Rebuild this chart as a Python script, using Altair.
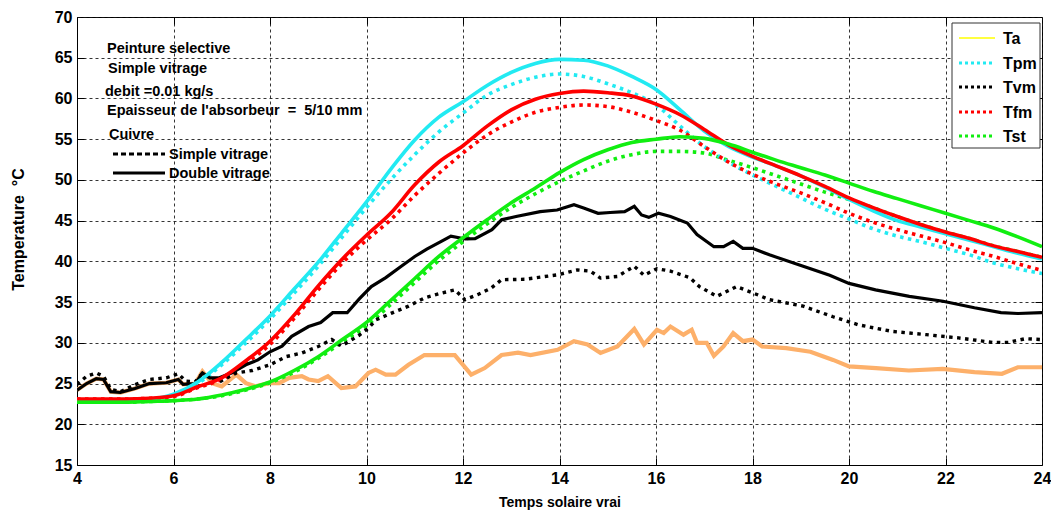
import altair as alt
import pandas as pd

# ---------------- data ----------------
t_half = [4.0, 4.5, 5.0, 5.5, 6.0, 6.5, 7.0, 7.5, 8.0, 8.5, 9.0, 9.5, 10.0, 10.5,
          11.0, 11.5, 12.0, 12.5, 13.0, 13.5, 14.0, 14.5, 15.0, 15.5, 16.0, 16.5,
          17.0, 17.5, 18.0, 18.5, 19.0, 19.5, 20.0, 20.5, 21.0, 21.5, 22.0, 22.5,
          23.0, 23.5, 24.0]

tpm_double = [23.0, 23.0, 23.0, 23.1, 23.7, 25.2, 27.6, 30.4, 33.3, 36.6,
              39.9, 43.6, 47.3, 51.3, 54.9, 57.7, 59.6, 61.6, 63.2, 64.3,
              64.8, 64.7, 64.0, 62.7, 61.1, 58.6, 56.0, 54.1, 52.8, 51.7,
              50.5, 49.1, 47.6, 46.2, 45.0, 44.2, 43.4, 42.6, 41.8, 41.0, 40.3]
tpm_simple = [23.0, 23.0, 23.0, 23.1, 23.6, 25.0, 27.3, 30.0, 32.9, 36.1,
              39.4, 43.0, 46.6, 50.0, 53.1, 55.9, 58.2, 60.4, 61.7, 62.6,
              63.0, 62.7, 61.8, 60.7, 59.2, 56.6, 54.1, 52.2, 50.6, 49.2,
              47.8, 46.4, 45.2, 44.0, 43.1, 42.4, 41.6, 40.8, 39.8, 39.1, 38.5]
tfm_double = [23.1, 23.1, 23.1, 23.2, 23.5, 24.6, 25.7, 27.8, 30.2, 33.4,
              37.0, 40.3, 43.2, 45.9, 49.4, 52.2, 54.2, 56.6, 58.6, 59.9,
              60.6, 60.9, 60.7, 60.3, 59.3, 58.0, 56.2, 54.3, 52.9, 51.7,
              50.5, 49.2, 47.8, 46.6, 45.5, 44.5, 43.6, 42.8, 41.9, 41.2, 40.5]
tfm_simple = [23.1, 23.1, 23.1, 23.2, 23.4, 24.5, 25.5, 27.5, 29.8, 33.0,
              36.5, 39.8, 42.6, 45.1, 48.1, 50.8, 53.3, 55.5, 57.1, 58.3,
              58.9, 59.2, 59.0, 58.3, 57.3, 56.1, 54.1, 52.2, 50.7, 49.5,
              48.4, 47.2, 45.9, 44.8, 43.9, 43.1, 42.3, 41.4, 40.6, 39.7, 38.9]
tst_double = [22.7, 22.7, 22.7, 22.8, 22.9, 23.1, 23.6, 24.3, 25.2, 26.6,
              28.3, 30.4, 32.5, 35.2, 37.9, 40.6, 42.9, 45.1, 47.2, 49.0,
              50.9, 52.5, 53.7, 54.6, 55.0, 55.3, 55.1, 54.4, 53.4, 52.4,
              51.5, 50.6, 49.6, 48.6, 47.7, 46.8, 45.9, 45.0, 44.1, 43.0, 41.8]
tst_simple = [22.7, 22.7, 22.7, 22.8, 22.9, 23.1, 23.5, 24.2, 25.1, 26.4,
              28.1, 30.1, 32.1, 34.7, 37.4, 40.1, 42.4, 44.6, 46.6, 48.3,
              49.8, 51.1, 52.3, 53.1, 53.5, 53.5, 53.3, 52.4, 51.5, 50.5,
              49.5, 48.5, 47.6, 46.6, 45.5, 44.5, 43.6, 42.8, 41.9, 41.2, 40.5]

tvm_double_t = [4.0, 4.2, 4.4, 4.55, 4.7, 4.9, 5.2, 5.5, 5.85, 6.1,
                6.2, 6.45, 6.6, 6.75, 6.95, 7.2, 7.5, 7.75, 8.0, 8.25,
                8.45, 8.8, 9.05, 9.3, 9.6, 9.85, 10.1, 10.4, 10.7, 11.0,
                11.25, 11.55, 11.75, 12.05, 12.25, 12.6, 12.8, 13.1, 13.6, 13.95,
                14.3, 14.5, 14.8, 15.05, 15.35, 15.55, 15.7, 15.85, 16.05, 16.3,
                16.65, 16.85, 17.2, 17.4, 17.6, 17.8, 18.0, 18.35, 19.05, 19.6,
                20.0, 20.55, 21.25, 21.95, 22.6, 23.15, 23.5, 24.0]
tvm_double = [24.2, 25.0, 25.6, 25.5, 24.0, 23.9, 24.4, 25.0, 25.1, 25.5,
              24.9, 25.0, 26.3, 25.7, 25.7, 26.3, 27.3, 27.9, 28.9, 29.6,
              30.8, 32.0, 32.5, 33.7, 33.7, 35.4, 36.9, 38.0, 39.3, 40.6,
              41.5, 42.45, 43.1, 42.75, 42.8, 43.9, 45.1, 45.5, 46.1, 46.3,
              46.95, 46.55, 45.9, 46.0, 46.1, 46.75, 45.7, 45.4, 45.9, 45.5,
              44.7, 43.3, 41.8, 41.8, 42.45, 41.6, 41.6, 40.8, 39.4, 38.3,
              37.3, 36.5, 35.7, 35.1, 34.3, 33.7, 33.6, 33.7]

tvm_simple_t = [4.0, 4.2, 4.4, 4.55, 4.7, 4.9, 5.2, 5.5, 5.85, 6.1,
                6.25, 6.45, 6.6, 6.75, 6.95, 7.3, 7.63, 8.0, 8.33, 8.66,
                9.0, 9.28, 9.48, 9.84, 10.04, 10.19, 10.52, 10.87, 11.2, 11.55,
                11.83, 12.04, 12.3, 12.58, 12.8, 13.28, 13.96, 14.37, 14.64, 14.85,
                15.2, 15.55, 15.75, 16.02, 16.3, 16.7, 16.9, 17.26, 17.67, 18.02,
                18.35, 19.05, 19.67, 20.2, 20.9, 21.6, 22.27, 22.97, 23.3, 23.65,
                24.0]
tvm_simple = [24.9, 25.9, 26.3, 25.9, 24.3, 24.0, 24.85, 25.5, 25.7, 26.2,
              25.3, 25.2, 26.3, 25.7, 25.2, 26.3, 26.6, 27.3, 28.3, 28.75,
              29.55, 30.4, 29.6, 30.9, 31.8, 32.8, 33.65, 34.5, 35.5, 36.1,
              36.5, 35.3, 35.9, 36.7, 37.75, 37.8, 38.35, 38.95, 38.8, 37.95,
              38.15, 39.4, 38.3, 39.1, 38.8, 38.0, 36.9, 35.7, 36.9, 36.1,
              35.3, 34.5, 33.2, 32.2, 31.4, 31.0, 30.6, 30.05, 30.05, 30.5,
              30.4]

ta_t = [4.0, 4.2, 4.4, 4.55, 4.7, 4.9, 5.2, 5.5, 5.85, 6.1,
        6.2, 6.45, 6.6, 6.8, 7.0, 7.3, 7.5, 7.7, 7.98, 8.19,
        8.4, 8.66, 8.8, 9.0, 9.2, 9.48, 9.77, 10.04, 10.19, 10.4,
        10.6, 10.87, 11.2, 11.83, 12.17, 12.45, 12.8, 13.14, 13.4, 13.96,
        14.3, 14.58, 14.85, 15.2, 15.55, 15.75, 16.02, 16.16, 16.3, 16.57,
        16.74, 16.85, 17.05, 17.2, 17.4, 17.6, 17.8, 18.0, 18.2, 18.7,
        19.2, 19.67, 20.0, 20.56, 21.24, 21.94, 22.6, 23.17, 23.5, 24.0]
ta = [24.2, 25.0, 25.6, 25.5, 24.0, 23.9, 24.4, 25.0, 25.1, 25.5,
      24.9, 25.0, 26.5, 25.05, 24.65, 26.1, 25.05, 24.65, 25.05, 25.05,
      25.7, 25.9, 25.5, 25.3, 25.9, 24.45, 24.65, 26.3, 26.7, 26.1,
      26.1, 27.3, 28.5, 28.5, 26.1, 26.9, 28.5, 28.8, 28.5, 29.15,
      30.2, 29.8, 28.75, 29.55, 31.7, 29.8, 31.6, 31.2, 32.0, 31.0,
      31.6, 30.0, 30.0, 28.4, 29.55, 31.2, 30.2, 30.4, 29.55, 29.35,
      28.9, 27.9, 27.1, 26.9, 26.6, 26.8, 26.4, 26.2, 27.0, 27.0]

x_ticks = [4, 6, 8, 10, 12, 14, 16, 18, 20, 22, 24]
y_ticks = [15, 20, 25, 30, 35, 40, 45, 50, 55, 60, 65, 70]

legend_names = ["Ta", "Tpm", "Tvm", "Tfm", "Tst"]
legend_colors = ["#FFFF00", "#22EAF2", "#000000", "#FF0000", "#11EE11"]
legend_dotted = [False, True, True, True, True]

annotation_lines = ["Peinture selective", "Simple vitrage", "debit =0.01 kg/s",
                    "Epaisseur de l'absorbeur\u00a0\u00a0=\u00a0\u00a05/10 mm", "Cuivre"]
style_labels = ["Simple vitrage", "Double vitrage"]

# ---------------- styling ----------------
W, H = 965, 448
FONT = "Liberation Sans"
ORANGE = "#FDB06A"
CYAN, RED, GREEN, BLACK = "#22EAF2", "#FF0000", "#11EE11", "#000000"
DOT = [3.5, 4.5]

xs = alt.Scale(domain=[4, 24], nice=False, zero=False)
ys = alt.Scale(domain=[15, 70], nice=False, zero=False)

main_x_axis = alt.Axis(values=x_ticks, grid=True, gridColor="#111", gridDash=[3, 3],
                       gridWidth=1, gridOpacity=0.85, ticks=False, domain=True,
                       domainColor="#000", domainWidth=1, labelFont=FONT, labelFontSize=16,
                       labelFontWeight="bold", labelColor="#000", labelPadding=5,
                       labelFlush=False, labelOverlap=False, format="d",
                       title="Temps solaire vrai", titleFont=FONT, titleFontSize=14,
                       titleFontWeight="bold", titleColor="#000", titleY=37,
                       titleBaseline="middle")
main_y_axis = alt.Axis(values=y_ticks, grid=True, gridColor="#111", gridDash=[3, 3],
                       gridWidth=1, gridOpacity=0.85, ticks=False, domain=True,
                       domainColor="#000", domainWidth=1, labelFont=FONT, labelFontSize=16,
                       labelFontWeight="bold", labelColor="#000", labelPadding=5,
                       labelFlush=False, labelOverlap=False, format="d",
                       title="Temperature\u00a0\u00a0\u00b0C", titleFont=FONT,
                       titleFontSize=16, titleFontWeight="bold", titleColor="#000",
                       titleX=-59, titleY=212, titleAngle=270, titleAlign="center",
                       titleBaseline="middle")


def frame(tt, vv):
    return pd.DataFrame({"t": tt, "T": vv})


def series(df, color, width, dotted=False, interp="linear", axes=False):
    mk = dict(color=color, strokeWidth=width, interpolate=interp, clip=True)
    if dotted:
        mk["strokeDash"] = DOT
    return alt.Chart(df).mark_line(**mk).encode(
        x=alt.X("t:Q", scale=xs, axis=main_x_axis if axes else None),
        y=alt.Y("T:Q", scale=ys, axis=main_y_axis if axes else None),
    )


layers = []
layers.append(series(frame(ta_t, ta), ORANGE, 4.2, axes=True))
layers.append(series(frame(t_half, tst_simple), GREEN, 3.6, dotted=True, interp="monotone"))
layers.append(series(frame(t_half, tpm_simple), CYAN, 3.6, dotted=True, interp="monotone"))
layers.append(series(frame(t_half, tfm_simple), RED, 3.6, dotted=True, interp="monotone"))
layers.append(series(frame(tvm_simple_t, tvm_simple), BLACK, 3.4, dotted=True))
layers.append(series(frame(tvm_double_t, tvm_double), BLACK, 3.2))
layers.append(series(frame(t_half, tpm_double), CYAN, 3.6, interp="monotone"))
layers.append(series(frame(t_half, tfm_double), RED, 3.6, interp="monotone"))
layers.append(series(frame(t_half, tst_double), GREEN, 3.6, interp="monotone"))

# inward ticks on all four sides (MATLAB style)
tick_common = dict(labels=False, domain=False, grid=False, ticks=True, tickSize=7,
                   tickColor="#000", tickWidth=1, title=None)
ghost = frame(ta_t, ta)
layers.append(alt.Chart(ghost).mark_line(opacity=0).encode(
    x=alt.X("t:Q", scale=xs, axis=alt.Axis(orient="bottom", offset=-H, values=x_ticks[1:-1], **tick_common)),
    y=alt.Y("T:Q", scale=ys, axis=alt.Axis(orient="left", offset=-W, values=y_ticks[1:-1], **tick_common)),
))
layers.append(alt.Chart(ghost).mark_line(opacity=0).encode(
    x=alt.X("t:Q", scale=xs, axis=alt.Axis(orient="top", offset=-H, values=x_ticks[1:-1], **tick_common)),
    y=alt.Y("T:Q", scale=ys, axis=alt.Axis(orient="right", offset=-W, values=y_ticks[1:-1], **tick_common)),
))

one = pd.DataFrame({"k": [0]})

# annotation text block (top-left)
ann_x = [30, 31, 28, 30, 32]
ann_y = [32, 52, 75, 94, 118]
for txt, ax_, ay_ in zip(annotation_lines, ann_x, ann_y):
    layers.append(alt.Chart(one).mark_text(align="left", baseline="middle", font=FONT,
                                           fontSize=14.5, fontWeight="bold", color="#000").encode(
        x=alt.value(ax_), y=alt.value(ay_), text=alt.value(txt)))

style_y = [137, 156]
for i, lab in enumerate(style_labels):
    kw = dict(color="#000", strokeWidth=3)
    if i == 0:
        kw["strokeDash"] = [5, 3]
    layers.append(alt.Chart(one).mark_rule(**kw).encode(
        x=alt.value(36), x2=alt.value(88), y=alt.value(style_y[i])))
    layers.append(alt.Chart(one).mark_text(align="left", baseline="middle", font=FONT,
                                           fontSize=14.5, fontWeight="bold", color="#000").encode(
        x=alt.value(92), y=alt.value(style_y[i] + 1), text=alt.value(lab)))

# legend box (top-right)
layers.append(alt.Chart(one).mark_rect(fill="white", stroke="#333", strokeWidth=1).encode(
    x=alt.value(875), x2=alt.value(963), y=alt.value(6), y2=alt.value(131)))
leg_y = [21, 46, 70, 95, 119]
for name, col, dotted, ly in zip(legend_names, legend_colors, legend_dotted, leg_y):
    kw = dict(color=col, strokeWidth=3 if dotted else 1.5)
    if dotted:
        kw["strokeDash"] = [3, 3]
    layers.append(alt.Chart(one).mark_rule(**kw).encode(
        x=alt.value(882), x2=alt.value(918), y=alt.value(ly)))
    layers.append(alt.Chart(one).mark_text(align="left", baseline="middle", font=FONT,
                                           fontSize=16, fontWeight="bold", color="#000").encode(
        x=alt.value(926), y=alt.value(ly + 1), text=alt.value(name)))

chart = alt.layer(*layers).resolve_axis(x="independent", y="independent").properties(
    width=W, height=H,
    padding={"left": 69, "top": 9, "right": 9, "bottom": 47},
    autosize=alt.AutoSizeParams(type="none"),
    background="white",
).configure_view(stroke="#000", strokeWidth=1)

chart.save("out.html", embed_options={"renderer": "svg", "actions": False})
